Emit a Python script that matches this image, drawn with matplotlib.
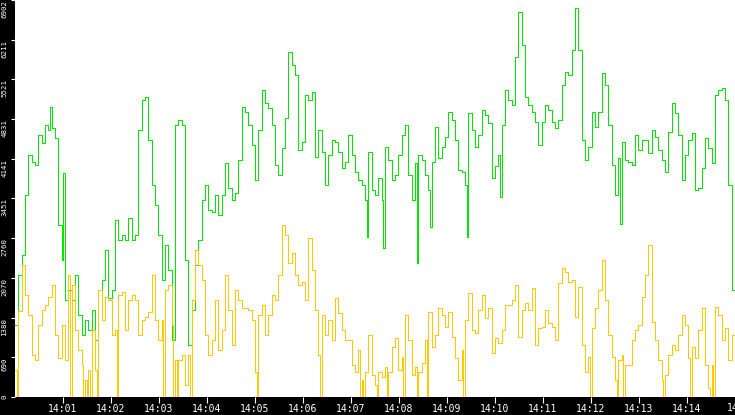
import matplotlib
matplotlib.use('Agg')
import matplotlib.pyplot as plt
import numpy as np
import pandas as pd

# samples, about every 4 s from 14:00 to 14:15
green_values = [
    1250, 2120, 2470, 3510, 4210, 4090, 4030, 4560, 4420, 4730,
    4640, 4680, 4500, 2990, 2380, 1690, 1860, 1690, 2120, 1430,
    1080, 1340, 1160, 1510, 990, 1860, 2030, 2560, 1720, 1860,
    3080, 2730, 2820, 2730, 3110, 2730, 2820, 4640, 5160, 5220,
    4470, 3690, 3340, 2820, 2030, 2640, 2210, 990, 4730, 4820,
    4730, 2380, 900, 1510, 2300, 2730, 3420, 3690, 3250, 3220,
    3510, 3160, 3510, 4070, 3630, 3420, 3550, 4120, 5040, 4950,
    4730, 4380, 3770, 4640, 5340, 5110, 5020, 4730, 4030, 3860,
    4330, 4850, 6000, 5770, 5600, 4290, 4430, 5250, 5160, 5300,
    4170, 4640, 4260, 3690, 4210, 4470, 4430, 4260, 3980, 4090,
    4560, 4210, 3910, 3770, 3690, 3420, 4260, 3600, 3510, 3810,
    3420, 4350, 4120, 3770, 3860, 4210, 4560, 4730, 3860, 3420,
    4070, 4210, 4120, 3860, 3600, 4090, 4690, 4160, 4350, 4520,
    4950, 4820, 4470, 3950, 3910, 3690, 4940, 4640, 4350, 4560,
    4990, 4900, 4760, 3810, 4020, 4210, 4730, 5340, 5160, 5080,
    5910, 6690, 6120, 5220, 5080, 4950, 4780, 4380, 4780, 5080,
    4990, 4780, 4680, 4820, 5420, 5650, 5600, 6030, 6760, 6030,
    4470, 4120, 4350, 4950, 4690, 4950, 5630, 5420, 4730, 4030,
    3510, 4160, 4430, 4120, 4090, 4030, 4560, 4290, 4470, 4470,
    4240, 4640, 4520, 4290, 4120, 3910, 4610, 5110, 4940, 4560,
    3770, 4210, 4470, 4590, 3600, 3630, 3980, 4500, 4330, 4070,
    5250, 5340, 5370, 5160, 3690, 1860,
]
# short dips/peaks of the green line (sample index, value)
green_spike_idx = [10, 14, 105, 110, 120, 124, 135, 145, 181]
green_spike_val = [5050, 3900, 2780, 2590, 2330, 2960, 2780, 3470, 3000]

yellow_values = [
    470, 1500, 2300, 1770, 1430, 730, 640, 1250, 1510, 1600,
    1740, 1950, 1080, 680, 1250, 640, 2120, 1950, 1160, 820,
    560, 300, 470, 1160, 470, 1860, 1340, 1740, 1690, 1080,
    1160, 1770, 1830, 1160, 1690, 1770, 1690, 1080, 1340, 1390,
    1480, 2120, 1340, 990, 1340, 1860, 1950, 1250, 640, 640,
    730, 210, 730, 1690, 2560, 2300, 2030, 1080, 730, 990,
    1690, 820, 1160, 2120, 1510, 900, 1860, 1690, 1550, 1550,
    1510, 1340, 430, 1430, 1600, 1080, 1430, 1770, 1690, 2120,
    2990, 2820, 2330, 2500, 2120, 1950, 2000, 1690, 2760, 2210,
    1510, 730, 1430, 1080, 1340, 990, 1720, 1460, 1160, 990,
    990, 560, 430, 820, 300, 430, 1080, 380, 210, 430,
    350, 520, 430, 870, 1030, 470, 700, 1430, 990, 380,
    520, 430, 590, 990, 1480, 870, 1080, 1550, 1430, 1220,
    1480, 1040, 680, 300, 820, 1340, 1810, 1160, 1110, 1510,
    1770, 1370, 1550, 760, 1030, 940, 1160, 1600, 1600, 1690,
    1950, 1040, 1510, 1630, 1510, 1900, 900, 1200, 1220, 1510,
    1290, 1220, 990, 1980, 2240, 2170, 2000, 2030, 1390, 1910,
    900, 430, 700, 1200, 1550, 1860, 2380, 1690, 1080, 700,
    300, 640, 730, 560, 560, 990, 1160, 1250, 1740, 2120,
    2640, 1300, 990, 640, 300, 380, 730, 900, 820, 1080,
    1430, 1250, 680, 870, 680, 1160, 1550, 560, 160, 560,
    1560, 1430, 990, 1200, 640, 1080,
]
# samples where the yellow line drops to zero
yellow_zero_idx = [0, 16, 20, 21, 22, 24, 30, 44, 47, 48, 52, 72, 91, 103, 104,
                   108, 111, 116, 120, 123, 134, 172, 180, 182, 194, 202, 208, 209]

y_ticks = [0, 690, 1380, 2070, 2760, 3451, 4141, 4831, 5521, 6211, 6902]
y_labels = ['0', '690', '1380', '2070', '2760', '3451', '4141', '4831', '5521', '6211', '6902']
x_labels = ['14:01', '14:02', '14:03', '14:04', '14:05', '14:06', '14:07',
            '14:08', '14:09', '14:10', '14:11', '14:12', '14:13', '14:14', '']
t_start = '2024-01-01 14:00:00'
t_end = '2024-01-01 14:15:00'


def half_steps(values, idx, vals):
    # every sample split in two halves, the second half takes the spike value
    out = np.repeat(np.array(values, dtype=float), 2)
    for i, v in zip(idx, vals):
        out[2 * i + 1] = v
    return np.append(out, out[-1])


green = half_steps(green_values, green_spike_idx, green_spike_val)
yellow = half_steps(yellow_values, yellow_zero_idx, [0] * len(yellow_zero_idx))
times = pd.date_range(t_start, t_end, periods=len(green))

fig = plt.figure(figsize=(7.35, 4.15), dpi=100, facecolor='black')
ax = fig.add_axes([15 / 735, 18 / 415, 720 / 735, 397 / 415])
ax.set_facecolor('white')

ax.step(times, green, where='post', color='#00e600', lw=0.6, antialiased=False)
ax.step(times, yellow, where='post', color='#ffc800', lw=0.6, antialiased=False)

ax.set_xlim(times[0], times[-1])
ax.set_ylim(0, 6902)

for s in ax.spines.values():
    s.set_visible(False)

mono = 'DejaVu Sans Mono'
ax.set_yticks(y_ticks)
ax.set_yticklabels(y_labels, rotation=90, va='top', fontsize=5.3,
                   family=mono, color='white')
ax.get_yticklabels()[0].set_verticalalignment('center')
ax.tick_params(axis='y', direction='out', length=3, width=0.8, color='white', pad=2.5)

x_ticks = pd.date_range('2024-01-01 14:01:00', t_end, freq='1min')
ax.set_xticks(x_ticks)
ax.set_xticklabels(x_labels, fontsize=7, family=mono, color='white')
ax.tick_params(axis='x', direction='out', length=4.5, width=0.8, color='white', pad=0.5)

# last label is cut by the right edge in the original
fig.text(727 / 735, 2 / 415, '14:15', fontsize=7, family=mono, color='white',
         ha='left', va='bottom')

fig.savefig('out.png', dpi=100, facecolor='black')
